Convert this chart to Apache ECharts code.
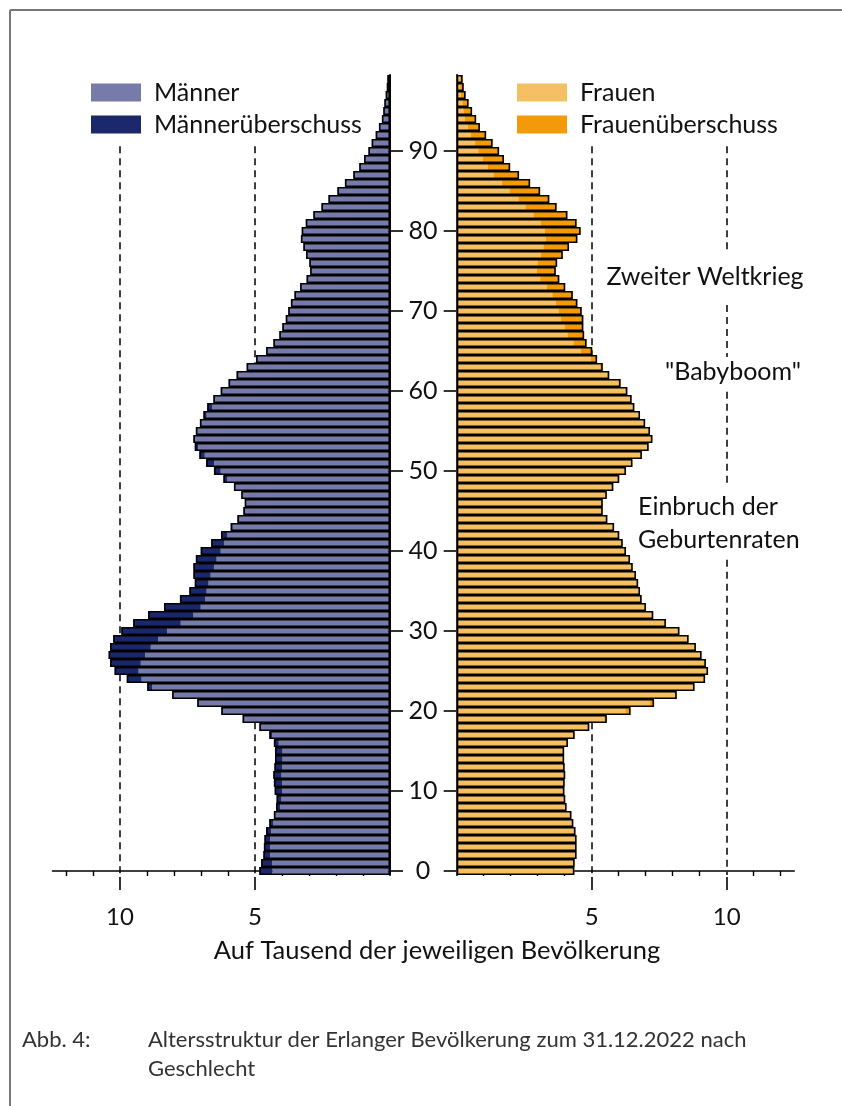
<!DOCTYPE html>
<html lang="de">
<head>
<meta charset="UTF-8">
<title>Altersstruktur Erlangen 2022</title>
<script src="https://cdn.jsdelivr.net/npm/echarts@6/dist/echarts.min.js"></script>
<style>
    html, body { margin: 0; padding: 0; background: #fff; }
    #chart { width: 842px; height: 1106px; }
</style>
</head>
<body>
<div id="chart"></div>
<script type="text/javascript">
    // Alter 0 bis 99
    var alter = ['0','1','2','3','4','5','6','7','8','9','10','11','12','13','14','15','16','17','18','19',
        '20','21','22','23','24','25','26','27','28','29','30','31','32','33','34','35','36','37','38','39',
        '40','41','42','43','44','45','46','47','48','49','50','51','52','53','54','55','56','57','58','59',
        '60','61','62','63','64','65','66','67','68','69','70','71','72','73','74','75','76','77','78','79',
        '80','81','82','83','84','85','86','87','88','89','90','91','92','93','94','95','96','97','98','99'];

    // Auf Tausend der jeweiligen Bevoelkerung
    var maenner = [4.84,4.77,4.69,4.67,4.65,4.59,4.47,4.30,4.22,4.20,
        4.27,4.30,4.32,4.28,4.26,4.26,4.30,4.47,4.84,5.46,
        6.25,7.14,8.07,8.99,9.75,10.20,10.37,10.42,10.37,10.25,
        9.95,9.51,8.96,8.37,7.78,7.43,7.23,7.28,7.28,7.19,
        7.01,6.62,6.26,5.90,5.65,5.43,5.38,5.51,5.78,6.17,
        6.52,6.81,7.06,7.23,7.28,7.19,7.04,6.91,6.77,6.54,
        6.27,5.98,5.68,5.31,4.96,4.59,4.32,4.10,3.99,3.86,
        3.77,3.67,3.54,3.33,3.09,2.96,2.99,3.11,3.21,3.30,
        3.27,3.12,2.84,2.54,2.28,1.95,1.67,1.36,1.14,0.96,
        0.80,0.68,0.53,0.41,0.30,0.25,0.21,0.16,0.12,0.10];

    var frauen = [4.36,4.37,4.44,4.44,4.44,4.40,4.32,4.25,4.07,4.02,
        3.99,4.00,4.02,4.00,3.98,3.98,4.12,4.37,4.91,5.56,
        6.44,7.31,8.15,8.81,9.20,9.31,9.23,9.07,8.86,8.59,
        8.25,7.75,7.28,7.01,6.85,6.79,6.72,6.64,6.52,6.42,
        6.27,6.15,6.02,5.83,5.58,5.41,5.41,5.56,5.80,6.02,
        6.27,6.51,6.86,7.11,7.25,7.16,6.98,6.79,6.58,6.48,
        6.32,6.07,5.65,5.41,5.20,5.02,4.81,4.72,4.69,4.69,
        4.63,4.47,4.30,4.02,3.80,3.67,3.72,3.93,4.16,4.47,
        4.59,4.44,4.10,3.70,3.43,3.09,2.72,2.31,1.98,1.75,
        1.57,1.33,1.09,0.86,0.72,0.57,0.44,0.33,0.26,0.22];

    var alterLabels = ['0','10','20','30','40','50','60','70','80','90'];
    var xTicksKlein = [1,2,3,4,6,7,8,9,11,12];
    var xTicksGross = [5,10];

    // gemeinsamer Teil und Ueberschuss
    var basis = maenner.map(function (m, i) { return Math.min(m, frauen[i]); });
    var mUeber = maenner.map(function (m, i) { return +Math.max(m - frauen[i], 0).toFixed(2); });
    var fUeber = frauen.map(function (f, i) { return +Math.max(f - maenner[i], 0).toFixed(2); });

    var FONT = 'Lato, "Noto Sans", sans-serif';
    var strich = { color: '#000', width: 1.5, type: [7, 5] };

    function segment(x, von, bis) {
        return [{ coord: [x, von] }, { coord: [x, bis] }];
    }

    function xAchsen(grid, inverse) {
        return [{
            gridIndex: grid, type: 'value', inverse: inverse, min: 0, max: 12.5,
            position: 'bottom', offset: 2,
            axisLine: { show: true, lineStyle: { color: '#000', width: 1.6 } },
            axisTick: { show: true, customValues: xTicksKlein, length: 5, lineStyle: { color: '#000', width: 1.4 } },
            axisLabel: { show: false },
            splitLine: { show: false }
        }, {
            gridIndex: grid, type: 'value', inverse: inverse, min: 0, max: 12.5,
            position: 'bottom', offset: 2,
            axisLine: { show: false },
            axisTick: { show: true, customValues: xTicksGross, length: 13, lineStyle: { color: '#000', width: 1.6 } },
            axisLabel: { show: true, customValues: xTicksGross, margin: 28, fontSize: 24, fontFamily: FONT, color: '#111' },
            splitLine: { show: false }
        }];
    }

    function zeigeAlter(index, value) {
        return alterLabels.indexOf(value) >= 0;
    }

    function legende(namen, links) {
        return {
            data: namen, orient: 'vertical', left: links, top: 80, padding: 0,
            itemWidth: 50, itemHeight: 18, itemGap: 7, icon: 'rect',
            itemStyle: { borderWidth: 0 },
            selectedMode: false,
            textStyle: { fontFamily: FONT, fontSize: 25, color: '#111', padding: [0, 0, 0, 8] }
        };
    }

    var chart = echarts.init(document.getElementById('chart'));

    chart.setOption({
        animation: false,
        backgroundColor: '#fff',
        legend: [legende(['Männer', 'Männerüberschuss'], 91), legende(['Frauen', 'Frauenüberschuss'], 517)],
        grid: [
            { left: 52.5, top: 75, width: 337.5, height: 800 },
            { left: 456.7, top: 75, width: 337.5, height: 800 }
        ],
        xAxis: xAchsen(0, true).concat(xAchsen(1, false)),
        yAxis: [{
            gridIndex: 0, type: 'category', data: alter, position: 'right',
            axisLine: { show: true, lineStyle: { color: '#000', width: 2 } },
            axisTick: { show: true, interval: zeigeAlter, alignWithLabel: true, length: 13, lineStyle: { color: '#000', width: 1.6 } },
            axisLabel: { show: true, interval: zeigeAlter, align: 'center', margin: 33, padding: [5, 0, 0, 0],
                fontSize: 25, fontFamily: FONT, color: '#111' }
        }, {
            gridIndex: 0, type: 'value', min: -0.5, max: 99.5, show: false
        }, {
            gridIndex: 1, type: 'category', data: alter, position: 'left',
            axisLine: { show: true, lineStyle: { color: '#000', width: 2 } },
            axisTick: { show: true, interval: zeigeAlter, alignWithLabel: true, length: 13, lineStyle: { color: '#000', width: 1.6 } },
            axisLabel: { show: false }
        }, {
            gridIndex: 1, type: 'value', min: -0.5, max: 99.5, show: false
        }],
        series: [
            // Hilfslinien (gestrichelt), hinter den Balken
            {
                type: 'line', name: 'hilfeM', xAxisIndex: 0, yAxisIndex: 1, data: [], z: 1, silent: true,
                markLine: {
                    z: 1, silent: true, symbol: ['none', 'none'], label: { show: false },
                    lineStyle: strich, emphasis: { disabled: true },
                    data: [segment(5, 90.6, -0.5), segment(10, 90.6, -0.5)]
                }
            },
            {
                type: 'line', name: 'hilfeF', xAxisIndex: 2, yAxisIndex: 3, data: [], z: 1, silent: true,
                markLine: {
                    z: 1, silent: true, symbol: ['none', 'none'], label: { show: false },
                    lineStyle: strich, emphasis: { disabled: true },
                    data: [segment(5, 90.6, -0.5),
                        segment(10, 90.6, 77.25), segment(10, 70.75, 64.25),
                        segment(10, 59.9, 48.25), segment(10, 38.9, -0.5)]
                }
            },
            {
                type: 'bar', name: 'Männer', xAxisIndex: 0, yAxisIndex: 0, stack: 'm',
                data: basis, barWidth: 8, barGap: '-100%',
                itemStyle: { color: '#767ba9' }
            },
            {
                type: 'bar', name: 'Männerüberschuss', xAxisIndex: 0, yAxisIndex: 0, stack: 'm',
                data: mUeber, barWidth: 8, barGap: '-100%',
                itemStyle: { color: '#1c286c' }
            },
            {
                type: 'bar', name: 'umrissM', xAxisIndex: 0, yAxisIndex: 0,
                data: maenner, barWidth: 8, barGap: '-100%', z: 3,
                itemStyle: { color: 'rgba(0,0,0,0)', borderColor: '#000', borderWidth: 1.6 }
            },
            {
                type: 'bar', name: 'Frauen', xAxisIndex: 2, yAxisIndex: 2, stack: 'f',
                data: basis, barWidth: 8, barGap: '-100%',
                itemStyle: { color: '#f5bf63' }
            },
            {
                type: 'bar', name: 'Frauenüberschuss', xAxisIndex: 2, yAxisIndex: 2, stack: 'f',
                data: fUeber, barWidth: 8, barGap: '-100%',
                itemStyle: { color: '#f39a0a' }
            },
            {
                type: 'bar', name: 'umrissF', xAxisIndex: 2, yAxisIndex: 2,
                data: frauen, barWidth: 8, barGap: '-100%', z: 3,
                itemStyle: { color: 'rgba(0,0,0,0)', borderColor: '#000', borderWidth: 1.6 }
            }
        ],
        graphic: [
            { type: 'line', z: 10, shape: { x1: 10, y1: 10, x2: 842, y2: 10 }, style: { stroke: '#777', lineWidth: 2 } },
            { type: 'line', z: 10, shape: { x1: 10, y1: 10, x2: 10, y2: 1106 }, style: { stroke: '#777', lineWidth: 2 } },
            { type: 'text', x: 437, y: 951, style: { text: 'Auf Tausend der jeweiligen Bevölkerung', font: '25.5px ' + FONT, fill: '#111', align: 'center', verticalAlign: 'middle' } },
            { type: 'text', x: 705, y: 277, style: { text: 'Zweiter Weltkrieg', font: '25px ' + FONT, fill: '#111', align: 'center', verticalAlign: 'middle' } },
            { type: 'text', x: 733, y: 372, style: { text: '"Babyboom"', font: '25px ' + FONT, fill: '#111', align: 'center', verticalAlign: 'middle' } },
            { type: 'text', x: 638, y: 507, style: { text: 'Einbruch der', font: '25px ' + FONT, fill: '#111', align: 'left', verticalAlign: 'middle' } },
            { type: 'text', x: 638, y: 540, style: { text: 'Geburtenraten', font: '25px ' + FONT, fill: '#111', align: 'left', verticalAlign: 'middle' } },
            { type: 'text', x: 22, y: 1040, style: { text: 'Abb. 4:', font: '22px ' + FONT, fill: '#333', verticalAlign: 'middle' } },
            { type: 'text', x: 148, y: 1040, style: { text: 'Altersstruktur der Erlanger Bevölkerung zum 31.12.2022 nach', font: '22px ' + FONT, fill: '#333', verticalAlign: 'middle' } },
            { type: 'text', x: 148, y: 1069, style: { text: 'Geschlecht', font: '22px ' + FONT, fill: '#333', verticalAlign: 'middle' } }
        ]
    });
</script>
</body>
</html>
